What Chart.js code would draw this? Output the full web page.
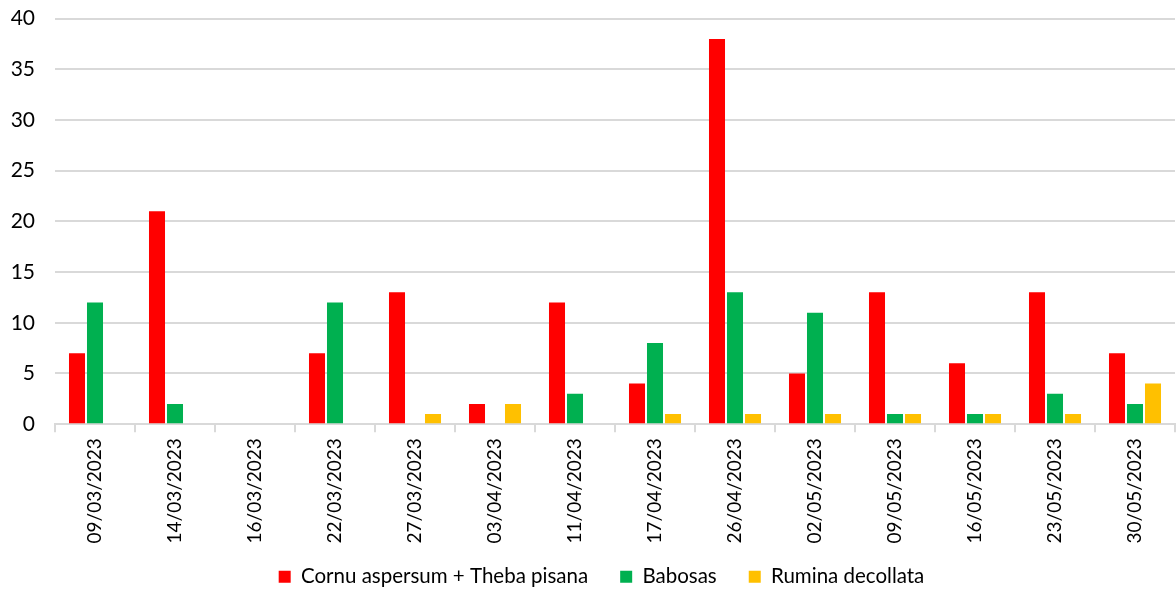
<!DOCTYPE html>
<html>
<head>
<meta charset="utf-8">
<script src="https://cdn.jsdelivr.net/npm/chart.js@4/dist/chart.umd.min.js"></script>
<style>
  html, body { margin: 0; padding: 0; background: #ffffff; overflow: hidden; }
  #wrap { width: 1176px; height: 604px; position: relative; top: -14px; }
</style>
</head>
<body>
<div id="wrap"><canvas id="chart"></canvas></div>
<script>
// Sampling dates
const dates = [
  "09/03/2023", "14/03/2023", "16/03/2023", "22/03/2023", "27/03/2023",
  "03/04/2023", "11/04/2023", "17/04/2023", "26/04/2023", "02/05/2023",
  "09/05/2023", "16/05/2023", "23/05/2023", "30/05/2023"
];

// Counts per group
const cornuTheba = [7, 21, 0, 7, 13, 2, 12, 4, 38, 5, 13, 6, 13, 7];
const babosas    = [12, 2, 0, 12, 0, 0, 3, 8, 13, 11, 1, 1, 3, 2];
const rumina     = [0, 0, 0, 0, 1, 2, 0, 1, 1, 1, 1, 1, 1, 4];

const seriesNames = ["Cornu aspersum + Theba pisana", "Babosas", "Rumina decollata"];

const yTicks = [0, 5, 10, 15, 20, 25, 30, 35, 40];

const fontFamily = "Lato, 'Open Sans', sans-serif";
const textColor = "#000000";
const gridColor = "#d9d9d9";

// The date labels may run into the legend's top padding: widen the label
// clip area back to full size and nudge the legend a little to the right.
const labelRoom = {
  id: "labelRoom",
  afterLayout(chart) {
    chart.scales.x.bottom += 15;
    chart.legend.left += 14;
    chart.legend.right += 14;
  }
};

new Chart(document.getElementById("chart"), {
  type: "bar",
  data: {
    labels: dates,
    datasets: [
      { label: seriesNames[0], data: cornuTheba, backgroundColor: "#ff0000" },
      { label: seriesNames[1], data: babosas,    backgroundColor: "#00b050" },
      { label: seriesNames[2], data: rumina,     backgroundColor: "#ffc000" }
    ]
  },
  plugins: [labelRoom],
  options: {
    responsive: true,
    maintainAspectRatio: false,
    animation: false,
    datasets: {
      bar: { categoryPercentage: 0.675, barPercentage: 0.89 }
    },
    layout: { padding: { top: 6, right: 1, left: 0, bottom: -7 } },
    plugins: {
      tooltip: { enabled: false },
      legend: {
        position: "bottom",
        labels: {
          boxWidth: 12,
          boxHeight: 12,
          padding: 32,
          color: textColor,
          font: { family: fontFamily, size: 20.5 }
        }
      }
    },
    scales: {
      x: {
        afterFit: (scale) => { scale.height -= 15; },
        grid: {
          display: true,
          offset: true,
          drawOnChartArea: false,
          drawTicks: true,
          tickLength: 8,
          color: gridColor,
          lineWidth: 2
        },
        border: { display: true, color: gridColor, width: 2 },
        ticks: {
          color: textColor,
          font: { family: fontFamily, size: 19 },
          minRotation: 90,
          maxRotation: 90,
          autoSkip: false,
          padding: 6
        }
      },
      y: {
        min: 0,
        max: 40,
        afterBuildTicks: (axis) => { axis.ticks = yTicks.map(v => ({ value: v })); },
        afterFit: (scale) => { scale.width = 55; },
        grid: {
          color: gridColor,
          lineWidth: 2,
          drawTicks: false
        },
        border: { display: false },
        ticks: {
          color: textColor,
          font: { family: fontFamily, size: 21 },
          padding: 20
        }
      }
    }
  }
});
</script>
</body>
</html>
